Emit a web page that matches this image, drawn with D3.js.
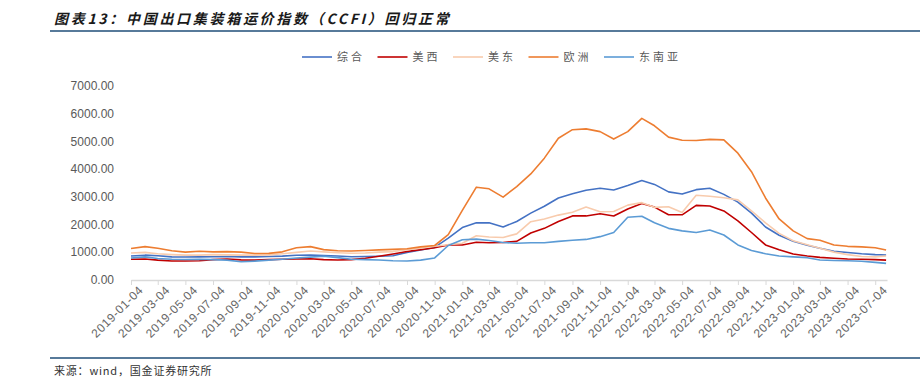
<!DOCTYPE html>
<html lang="zh-CN">
<head>
    <meta charset="UTF-8">
    <title>中国出口集装箱运价指数（CCFI）</title>
    <script src="https://d3js.org/d3.v7.min.js"></script>
    <style>
        body {
            margin: 0;
            padding: 0;
            background-color: #fff;
        }
        svg {
            display: block;
        }
        .title {
            font-family: "Noto Sans CJK SC", sans-serif;
            font-size: 14px;
            font-weight: bold;
            font-style: italic;
            letter-spacing: 2.7px;
            fill: #1a1a1a;
        }
        .legend text {
            font-family: "Noto Sans CJK SC", sans-serif;
            font-size: 11px;
            letter-spacing: 3px;
            fill: #595959;
        }
        .axis text {
            font-family: "Liberation Sans", Arial, sans-serif;
            font-size: 12px;
            fill: #595959;
        }
        .x-axis text {
            letter-spacing: 0.6px;
            fill: #666;
        }
        .source {
            font-family: "Noto Sans CJK SC", sans-serif;
            font-size: 11px;
            letter-spacing: 0.8px;
            fill: #333;
        }
    </style>
</head>
<body>

    <svg id="chart" width="920" height="379"></svg>

    <script>
        // monthly readings, last point is end of July 2023
        const dates = [
            '2019-01-04', '2019-02-04', '2019-03-04', '2019-04-04', '2019-05-04', '2019-06-04',
            '2019-07-04', '2019-08-04', '2019-09-04', '2019-10-04', '2019-11-04', '2019-12-04',
            '2020-01-04', '2020-02-04', '2020-03-04', '2020-04-04', '2020-05-04', '2020-06-04',
            '2020-07-04', '2020-08-04', '2020-09-04', '2020-10-04', '2020-11-04', '2020-12-04',
            '2021-01-04', '2021-02-04', '2021-03-04', '2021-04-04', '2021-05-04', '2021-06-04',
            '2021-07-04', '2021-08-04', '2021-09-04', '2021-10-04', '2021-11-04', '2021-12-04',
            '2022-01-04', '2022-02-04', '2022-03-04', '2022-04-04', '2022-05-04', '2022-06-04',
            '2022-07-04', '2022-08-04', '2022-09-04', '2022-10-04', '2022-11-04', '2022-12-04',
            '2023-01-04', '2023-02-04', '2023-03-04', '2023-04-04', '2023-05-04', '2023-06-04',
            '2023-07-04', '2023-07-28'
        ];

        const composite = [
            850, 880, 860, 820, 815, 820, 825, 830, 820, 820, 830, 845,
            875, 885, 870, 850, 825, 830, 840, 860, 980, 1070, 1160, 1500,
            1880, 2055, 2050, 1900, 2100, 2400, 2650, 2950, 3100, 3230, 3300, 3240,
            3400, 3580, 3440, 3170, 3090, 3250, 3300, 3080, 2800, 2400, 1900, 1600,
            1380, 1240, 1130, 1020, 975, 930, 900, 885
        ];
        const usWest = [
            730, 740, 700, 670, 670, 680, 720, 740, 710, 700, 720, 730,
            740, 750, 720, 705, 720, 770, 840, 920, 1010, 1080, 1150, 1250,
            1250, 1350, 1330, 1340, 1380, 1680, 1850, 2100, 2300, 2300, 2380, 2300,
            2550, 2750, 2620, 2340, 2340, 2680, 2660, 2480, 2120, 1700, 1250, 1080,
            920, 850, 800, 770, 740, 730, 720, 700
        ];
        const usEast = [
            960, 980, 930, 900, 880, 880, 900, 890, 880, 880, 890, 930,
            980, 1030, 1000, 970, 950, 960, 990, 1010, 1080, 1130, 1200, 1260,
            1310, 1580, 1540, 1520, 1650, 2090, 2190, 2330, 2430, 2620, 2450, 2460,
            2690, 2780, 2610, 2630, 2420, 3050, 3010, 2960, 2880, 2480, 2050, 1670,
            1400, 1260, 1130, 990, 900, 830, 820, 850
        ];
        const europe = [
            1120, 1190, 1130, 1040, 990, 1020, 1000, 1010, 990, 940, 945, 1000,
            1150, 1190, 1080, 1040, 1030, 1050, 1070, 1090, 1110, 1180, 1230, 1620,
            2500, 3340, 3280, 2980, 3360, 3820, 4390, 5110, 5420, 5450, 5350, 5080,
            5350, 5830, 5560, 5150, 5040, 5030, 5070, 5050, 4570, 3900, 2950, 2190,
            1760, 1480, 1420, 1250, 1200, 1180, 1150, 1070
        ];
        const seAsia = [
            780, 820, 760, 730, 725, 730, 720, 700, 640, 665, 700, 735,
            780, 810, 840, 790, 730, 720, 705, 680, 670, 700, 780, 1230,
            1440, 1460, 1410, 1340, 1310, 1330, 1330, 1380, 1420, 1450, 1550, 1700,
            2250, 2290, 2050, 1850, 1760, 1700, 1790, 1610, 1250, 1050, 930, 850,
            820, 790, 705, 690, 680, 660, 620, 585
        ];

        const seriesNames = ['综合', '美西', '美东', '欧洲', '东南亚'];
        const seriesValues = [composite, usWest, usEast, europe, seAsia];
        const seriesColors = ['#4472C4', '#C00000', '#F8CBAD', '#ED7D31', '#5B9BD5'];

        const yTicks = [0, 1000, 2000, 3000, 4000, 5000, 6000, 7000];
        const xTickLabels = [
            '2019-01-04', '2019-03-04', '2019-05-04', '2019-07-04', '2019-09-04', '2019-11-04',
            '2020-01-04', '2020-03-04', '2020-05-04', '2020-07-04', '2020-09-04', '2020-11-04',
            '2021-01-04', '2021-03-04', '2021-05-04', '2021-07-04', '2021-09-04', '2021-11-04',
            '2022-01-04', '2022-03-04', '2022-05-04', '2022-07-04', '2022-09-04', '2022-11-04',
            '2023-01-04', '2023-03-04', '2023-05-04', '2023-07-04'
        ];

        const parseDate = d3.timeParse('%Y-%m-%d');
        const fmtDate = d3.timeFormat('%Y-%m-%d');

        const svg = d3.select('#chart');

        // title + rules
        svg.append('text')
            .attr('class', 'title')
            .attr('x', 54)
            .attr('y', 24)
            .text('图表13：中国出口集装箱运价指数（CCFI）回归正常');

        svg.append('line')
            .attr('x1', 50).attr('x2', 920)
            .attr('y1', 31).attr('y2', 31)
            .attr('stroke', '#1F4E79').attr('stroke-width', 1.5);

        svg.append('line')
            .attr('x1', 50).attr('x2', 920)
            .attr('y1', 358).attr('y2', 358)
            .attr('stroke', '#1F4E79').attr('stroke-width', 1.5);

        svg.append('text')
            .attr('class', 'source')
            .attr('x', 54)
            .attr('y', 375)
            .text('来源：wind，国金证券研究所');

        // scales
        const x = d3.scaleTime()
            .domain([parseDate('2019-01-04'), parseDate('2023-07-30')])
            .range([131, 887]);

        const y = d3.scaleLinear()
            .domain([0, 7000])
            .range([279.5, 86]);

        // y axis: labels only
        const yAxis = svg.append('g')
            .attr('class', 'axis')
            .attr('transform', 'translate(118,0)')
            .call(d3.axisLeft(y).tickValues(yTicks).tickFormat(d3.format('.2f')).tickSize(0).tickPadding(4));
        yAxis.select('.domain').remove();

        // x axis
        const xAxis = svg.append('g')
            .attr('class', 'axis x-axis')
            .attr('transform', 'translate(0,280)')
            .call(d3.axisBottom(x)
                .tickValues(xTickLabels.map(parseDate))
                .tickFormat(fmtDate)
                .tickSize(5)
                .tickSizeOuter(0));
        xAxis.select('.domain').attr('stroke', '#D9D9D9').attr('stroke-width', 1.5);
        xAxis.selectAll('.tick line').attr('stroke', '#D9D9D9');
        xAxis.selectAll('.tick text')
            .attr('text-anchor', 'end')
            .attr('dx', '0.1em')
            .attr('dy', '0.7em')
            .attr('transform', 'rotate(-45)');

        // lines
        const line = d3.line()
            .x((d, i) => x(parseDate(dates[i])))
            .y(d => y(d));

        seriesValues.forEach((vals, i) => {
            svg.append('path')
                .datum(vals)
                .attr('fill', 'none')
                .attr('stroke', seriesColors[i])
                .attr('stroke-width', 1.6)
                .attr('stroke-linejoin', 'round')
                .attr('d', line);
        });

        // legend
        const legend = svg.append('g').attr('class', 'legend');
        seriesNames.forEach((name, i) => {
            const lx = 302 + i * 75.5;
            legend.append('line')
                .attr('x1', lx).attr('x2', lx + 30)
                .attr('y1', 57).attr('y2', 57)
                .attr('stroke', seriesColors[i])
                .attr('stroke-width', 1.6);
            legend.append('text')
                .attr('x', lx + 35)
                .attr('y', 61)
                .text(name);
        });
    </script>

</body>
</html>
